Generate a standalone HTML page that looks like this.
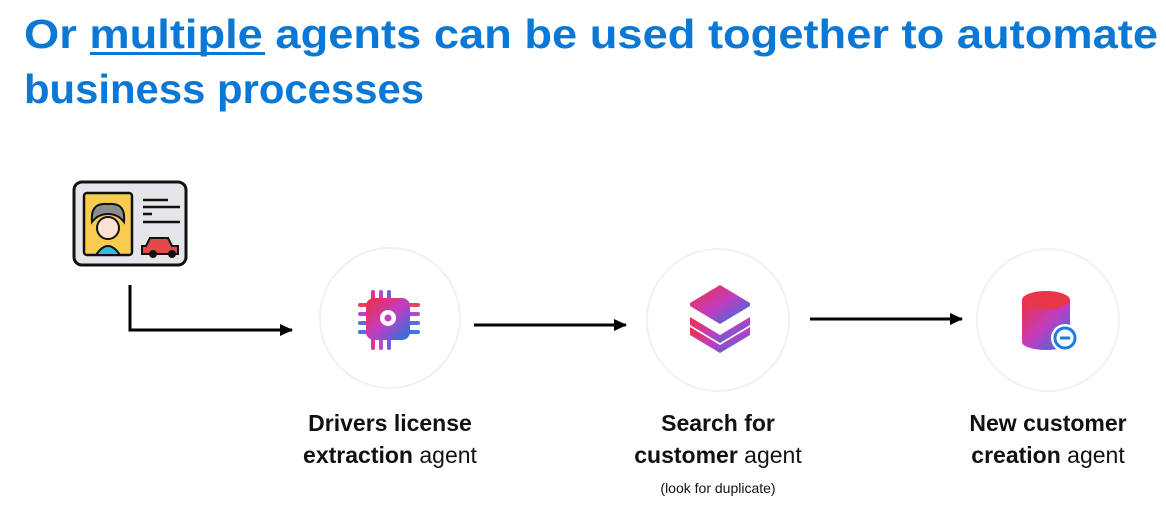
<!DOCTYPE html>
<html><head><meta charset="utf-8"><style>
html,body{margin:0;padding:0;background:#fff;}
svg{display:block;}
</style></head><body>
<svg width="1166" height="510" viewBox="0 0 1166 510" xmlns="http://www.w3.org/2000/svg" font-family="Liberation Sans, sans-serif">
<defs>
<linearGradient id="g" x1="0" y1="0" x2="1" y2="1">
<stop offset="0" stop-color="#f0303c"/><stop offset="0.5" stop-color="#c23cc0"/><stop offset="1" stop-color="#1a7be0"/>
</linearGradient>
<marker id="ah" markerWidth="14" markerHeight="14" refX="12" refY="7" orient="auto" markerUnits="userSpaceOnUse">
<path d="M0,1 L13,7 L0,13 z" fill="#000"/></marker>
</defs>
<g fill="#0a78d4" font-weight="bold" font-size="41">
<text x="24" y="48" textLength="1134" lengthAdjust="spacingAndGlyphs">Or multiple agents can be used together to automate</text>
<text x="24" y="103" textLength="400" lengthAdjust="spacingAndGlyphs">business processes</text>
</g>
<rect x="90" y="52" width="175" height="3" fill="#0a78d4"/>
<!-- license card -->
<rect x="74" y="182" width="112" height="83" rx="8" fill="#e4e6ea" stroke="#111" stroke-width="3"/>
<rect x="84" y="193" width="48" height="62" rx="3" fill="#f7cc4f" stroke="#111" stroke-width="2.5"/>
<path d="M96,255 q12,-18 24,0z" fill="#3ab8d8" stroke="#111" stroke-width="2"/>
<circle cx="108" cy="228" r="11" fill="#fbe1d4" stroke="#111" stroke-width="2"/>
<path d="M92,222 q-2,-20 16,-18 q18,-2 16,18 q-6,-8 -16,-8 q-10,0 -16,8z" fill="#8a8c90" stroke="#111" stroke-width="2"/>
<g stroke="#111" stroke-width="2.5"><line x1="143" y1="200" x2="168" y2="200"/><line x1="143" y1="207" x2="180" y2="207"/><line x1="143" y1="214" x2="152" y2="214"/><line x1="143" y1="222" x2="180" y2="222"/></g>
<path d="M146,246 l4,-8 h18 l4,8 h6 v8 h-36 v-8z" fill="#e24a4a" stroke="#111" stroke-width="2"/>
<circle cx="153" cy="254" r="4" fill="#111"/><circle cx="172" cy="254" r="4" fill="#111"/>
<!-- connectors -->
<path d="M130,285 V330 H292" fill="none" stroke="#000" stroke-width="3" marker-end="url(#ah)"/>
<line x1="474" y1="325" x2="626" y2="325" stroke="#000" stroke-width="3" marker-end="url(#ah)"/>
<line x1="810" y1="319" x2="962" y2="319" stroke="#000" stroke-width="3" marker-end="url(#ah)"/>
<!-- circles -->
<g fill="#fff" stroke="#f1f1f1" stroke-width="2">
<circle cx="390" cy="318" r="70"/><circle cx="718" cy="320" r="71"/><circle cx="1048" cy="320" r="71"/>
</g>
<!-- chip -->
<g>
<rect x="371" y="290" width="4" height="60" rx="2" fill="#d8389c"/>
<rect x="379" y="290" width="4" height="60" rx="2" fill="#b04cc8"/>
<rect x="387" y="290" width="4" height="60" rx="2" fill="#7a5ed8"/>
<rect x="358" y="303" width="62" height="4" rx="2" fill="#e8445a"/>
<rect x="358" y="312" width="62" height="4" rx="2" fill="#b04cc8"/>
<rect x="358" y="321" width="62" height="4" rx="2" fill="#5a6ee0"/>
<rect x="358" y="330" width="62" height="4" rx="2" fill="#3a78e0"/>
</g>
<rect x="366" y="298" width="44" height="42" rx="8" fill="url(#g)"/>
<circle cx="388" cy="318" r="8" fill="#fff"/><circle cx="388" cy="318" r="3.5" fill="#c23cc0"/>
<!-- stack -->
<path d="M690,327 l30,18 l30,-18 v8 l-30,18 l-30,-18z" fill="url(#g)"/>
<path d="M690,317 l30,18 l30,-18 v8 l-30,18 l-30,-18z" fill="url(#g)"/>
<path d="M690,303 l30,-18 l30,18 v3 l-30,18 l-30,-18z" fill="url(#g)"/>
<!-- db -->
<path d="M1022,300 v42 a24,8 0 0 0 48,0 v-42z" fill="url(#g)"/>
<ellipse cx="1046" cy="300" rx="24" ry="9" fill="#e8364a"/>
<circle cx="1065" cy="338" r="14" fill="#fff"/>
<circle cx="1065" cy="338" r="10" fill="none" stroke="#1a7be0" stroke-width="3"/>
<line x1="1060" y1="338" x2="1070" y2="338" stroke="#1a7be0" stroke-width="3"/>
<!-- labels -->
<g font-size="23" fill="#111" text-anchor="middle">
<text x="390" y="431" font-weight="bold">Drivers license</text>
<text x="390" y="463"><tspan font-weight="bold">extraction</tspan> agent</text>
<text x="718" y="431" font-weight="bold">Search for</text>
<text x="718" y="463"><tspan font-weight="bold">customer</tspan> agent</text>
<text x="718" y="493" font-size="14">(look for duplicate)</text>
<text x="1048" y="431" font-weight="bold">New customer</text>
<text x="1048" y="463"><tspan font-weight="bold">creation</tspan> agent</text>
</g>
</svg>
</body></html>
